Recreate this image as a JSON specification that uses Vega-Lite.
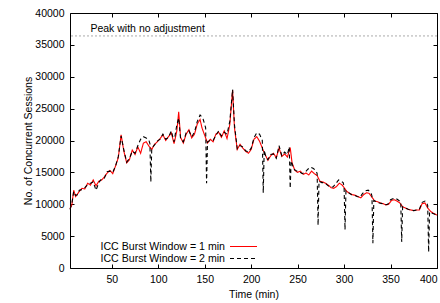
{
  "$schema": "https://vega.github.io/schema/vega-lite/v6.json",
  "width": 367,
  "height": 255,
  "autosize": {"type": "none"},
  "padding": {"left": 70, "top": 13, "right": 3, "bottom": 35},
  "background": "white",
  "config": {
    "font": "Liberation Sans",
    "view": {"stroke": "#000", "strokeWidth": 1},
    "axis": {
      "grid": false,
      "domain": false,
      "tickColor": "#000",
      "tickSize": -4,
      "labelColor": "#000",
      "labelFont": "Liberation Sans",
      "labelFontSize": 10.5,
      "titleFont": "Liberation Sans",
      "titleFontSize": 10.5,
      "titleFontWeight": "normal",
      "titleColor": "#000"
    },
    "legend": {
      "orient": "none",
      "legendX": 168,
      "legendY": 228,
      "symbolType": "M-3,0H3",
      "symbolSize": 81,
      "symbolStrokeWidth": 1.1,
      "labelAlign": "right",
      "labelOffset": -24,
      "labelFont": "Liberation Sans",
      "labelFontSize": 10.6,
      "labelColor": "#000",
      "rowPadding": -1,
      "title": null
    }
  },
  "datasets": {
    "peak": [{"v": 36400, "label": "Peak with no adjustment"}],
    "w1": [
      {"t": 5, "v": 9300}, {"t": 7, "v": 9900}, {"t": 9, "v": 12200}, {"t": 11, "v": 11200}, {"t": 13, "v": 11600},
      {"t": 15, "v": 12000}, {"t": 18, "v": 12500}, {"t": 21, "v": 12400}, {"t": 24, "v": 13300}, {"t": 27, "v": 13000},
      {"t": 30, "v": 13800}, {"t": 33, "v": 12900}, {"t": 36, "v": 13600}, {"t": 39, "v": 13800}, {"t": 42, "v": 14300},
      {"t": 45, "v": 14900}, {"t": 48, "v": 15300}, {"t": 51, "v": 14800}, {"t": 54, "v": 16000}, {"t": 57, "v": 17300},
      {"t": 60, "v": 20900}, {"t": 63, "v": 18300}, {"t": 66, "v": 16500}, {"t": 69, "v": 17000}, {"t": 72, "v": 18500},
      {"t": 75, "v": 17800}, {"t": 78, "v": 19000}, {"t": 81, "v": 18000}, {"t": 84, "v": 19600}, {"t": 87, "v": 19800},
      {"t": 90, "v": 19100}, {"t": 93, "v": 18600}, {"t": 96, "v": 19400}, {"t": 99, "v": 19800}, {"t": 102, "v": 20300},
      {"t": 105, "v": 20900}, {"t": 108, "v": 20000}, {"t": 111, "v": 20600}, {"t": 114, "v": 21200}, {"t": 117, "v": 19500},
      {"t": 120, "v": 21500}, {"t": 122, "v": 24500}, {"t": 124, "v": 20500}, {"t": 127, "v": 19600}, {"t": 130, "v": 21000},
      {"t": 133, "v": 21700}, {"t": 136, "v": 20400}, {"t": 139, "v": 21000}, {"t": 142, "v": 22600}, {"t": 145, "v": 23300},
      {"t": 147, "v": 22000}, {"t": 150, "v": 20800}, {"t": 153, "v": 19600}, {"t": 156, "v": 20200}, {"t": 159, "v": 19800},
      {"t": 162, "v": 21000}, {"t": 165, "v": 21300}, {"t": 168, "v": 20500}, {"t": 171, "v": 21500}, {"t": 174, "v": 20300},
      {"t": 177, "v": 22500}, {"t": 180, "v": 27900}, {"t": 182, "v": 22000}, {"t": 185, "v": 18600}, {"t": 188, "v": 19400},
      {"t": 191, "v": 18800}, {"t": 194, "v": 18300}, {"t": 197, "v": 18000}, {"t": 200, "v": 18600}, {"t": 203, "v": 20200},
      {"t": 206, "v": 20600}, {"t": 209, "v": 19900}, {"t": 212, "v": 18800}, {"t": 215, "v": 17800}, {"t": 218, "v": 16900},
      {"t": 221, "v": 17600}, {"t": 224, "v": 18000}, {"t": 227, "v": 17300}, {"t": 230, "v": 18800}, {"t": 233, "v": 17500},
      {"t": 236, "v": 17900}, {"t": 239, "v": 17400}, {"t": 242, "v": 18900}, {"t": 244, "v": 16500}, {"t": 247, "v": 15300},
      {"t": 250, "v": 15000}, {"t": 253, "v": 15200}, {"t": 256, "v": 14700}, {"t": 259, "v": 14900}, {"t": 262, "v": 14600},
      {"t": 265, "v": 15200}, {"t": 268, "v": 14800}, {"t": 271, "v": 14500}, {"t": 274, "v": 13600}, {"t": 277, "v": 13500},
      {"t": 280, "v": 13300}, {"t": 283, "v": 13000}, {"t": 286, "v": 12600}, {"t": 289, "v": 12500}, {"t": 292, "v": 12800},
      {"t": 295, "v": 13300}, {"t": 298, "v": 13000}, {"t": 300, "v": 12600}, {"t": 303, "v": 12000}, {"t": 306, "v": 11700},
      {"t": 309, "v": 11500}, {"t": 312, "v": 11400}, {"t": 315, "v": 11200}, {"t": 318, "v": 11000}, {"t": 321, "v": 11500},
      {"t": 324, "v": 11800}, {"t": 327, "v": 11700}, {"t": 330, "v": 11100}, {"t": 333, "v": 10500}, {"t": 336, "v": 10400},
      {"t": 339, "v": 10200}, {"t": 342, "v": 10100}, {"t": 345, "v": 9900}, {"t": 348, "v": 10000}, {"t": 351, "v": 10600},
      {"t": 354, "v": 10700}, {"t": 357, "v": 10500}, {"t": 360, "v": 10200}, {"t": 363, "v": 9600}, {"t": 366, "v": 9400},
      {"t": 369, "v": 9200}, {"t": 372, "v": 9100}, {"t": 375, "v": 9000}, {"t": 378, "v": 9100}, {"t": 381, "v": 9100},
      {"t": 384, "v": 10100}, {"t": 387, "v": 10200}, {"t": 390, "v": 9400}, {"t": 393, "v": 8900}, {"t": 396, "v": 8600},
      {"t": 400, "v": 8300}
    ],
    "w2": [
      {"t": 5, "v": 9200}, {"t": 7, "v": 10100}, {"t": 9, "v": 12000}, {"t": 11, "v": 11400}, {"t": 13, "v": 11500},
      {"t": 15, "v": 12200}, {"t": 18, "v": 12300}, {"t": 21, "v": 12600}, {"t": 24, "v": 13100}, {"t": 27, "v": 13300},
      {"t": 30, "v": 13500}, {"t": 33, "v": 12200}, {"t": 36, "v": 13400}, {"t": 39, "v": 14000}, {"t": 42, "v": 14100},
      {"t": 45, "v": 15100}, {"t": 48, "v": 15200}, {"t": 51, "v": 15000}, {"t": 54, "v": 16000}, {"t": 57, "v": 17500},
      {"t": 60, "v": 20700}, {"t": 63, "v": 18500}, {"t": 66, "v": 16600}, {"t": 69, "v": 17200}, {"t": 72, "v": 18300},
      {"t": 75, "v": 18000}, {"t": 78, "v": 19200}, {"t": 81, "v": 20200}, {"t": 84, "v": 20600}, {"t": 87, "v": 20400},
      {"t": 90, "v": 20000}, {"t": 91, "v": 19500}, {"t": 92, "v": 13500}, {"t": 93, "v": 18800}, {"t": 96, "v": 19300},
      {"t": 99, "v": 19900}, {"t": 102, "v": 20200}, {"t": 105, "v": 21000}, {"t": 108, "v": 20200}, {"t": 111, "v": 20500},
      {"t": 114, "v": 21500}, {"t": 117, "v": 19800}, {"t": 120, "v": 22500}, {"t": 122, "v": 23500}, {"t": 124, "v": 20300},
      {"t": 127, "v": 19800}, {"t": 130, "v": 21200}, {"t": 133, "v": 21500}, {"t": 136, "v": 20600}, {"t": 139, "v": 21300},
      {"t": 142, "v": 23000}, {"t": 145, "v": 24000}, {"t": 148, "v": 23500}, {"t": 151, "v": 22000}, {"t": 152, "v": 13300},
      {"t": 153, "v": 19800}, {"t": 156, "v": 20000}, {"t": 159, "v": 20000}, {"t": 162, "v": 20800}, {"t": 165, "v": 21500},
      {"t": 168, "v": 20700}, {"t": 171, "v": 21300}, {"t": 174, "v": 21000}, {"t": 177, "v": 23000}, {"t": 180, "v": 28000},
      {"t": 182, "v": 22500}, {"t": 185, "v": 18700}, {"t": 188, "v": 19200}, {"t": 191, "v": 19000}, {"t": 194, "v": 18400},
      {"t": 197, "v": 18200}, {"t": 200, "v": 18800}, {"t": 203, "v": 20400}, {"t": 206, "v": 21200}, {"t": 209, "v": 21000},
      {"t": 212, "v": 20000}, {"t": 213, "v": 11800}, {"t": 214, "v": 18500}, {"t": 216, "v": 17300}, {"t": 218, "v": 17000},
      {"t": 221, "v": 17800}, {"t": 224, "v": 17900}, {"t": 227, "v": 17200}, {"t": 230, "v": 19200}, {"t": 233, "v": 17600},
      {"t": 236, "v": 18200}, {"t": 239, "v": 17800}, {"t": 241, "v": 19000}, {"t": 242, "v": 12500}, {"t": 243, "v": 16800},
      {"t": 246, "v": 15500}, {"t": 249, "v": 15200}, {"t": 252, "v": 15100}, {"t": 255, "v": 14800}, {"t": 258, "v": 15000},
      {"t": 261, "v": 15500}, {"t": 264, "v": 15800}, {"t": 267, "v": 15600}, {"t": 270, "v": 15200}, {"t": 271, "v": 14800},
      {"t": 272, "v": 6700}, {"t": 273, "v": 13600}, {"t": 276, "v": 13400}, {"t": 279, "v": 13400}, {"t": 282, "v": 13000},
      {"t": 285, "v": 12700}, {"t": 288, "v": 12700}, {"t": 291, "v": 13200}, {"t": 294, "v": 13800}, {"t": 297, "v": 13600},
      {"t": 299, "v": 13400}, {"t": 300, "v": 12800}, {"t": 301, "v": 6000}, {"t": 302, "v": 12100}, {"t": 305, "v": 11800},
      {"t": 308, "v": 11500}, {"t": 311, "v": 11400}, {"t": 314, "v": 11200}, {"t": 317, "v": 11100}, {"t": 320, "v": 11700},
      {"t": 323, "v": 12100}, {"t": 326, "v": 12200}, {"t": 329, "v": 11800}, {"t": 330, "v": 11300}, {"t": 331, "v": 3900},
      {"t": 332, "v": 10600}, {"t": 335, "v": 10400}, {"t": 338, "v": 10200}, {"t": 341, "v": 10100}, {"t": 344, "v": 9900},
      {"t": 347, "v": 10000}, {"t": 350, "v": 10700}, {"t": 353, "v": 10900}, {"t": 356, "v": 10900}, {"t": 359, "v": 10600},
      {"t": 361, "v": 10300}, {"t": 362, "v": 4100}, {"t": 363, "v": 9600}, {"t": 366, "v": 9400}, {"t": 369, "v": 9200},
      {"t": 372, "v": 9100}, {"t": 375, "v": 9000}, {"t": 378, "v": 9100}, {"t": 381, "v": 9200}, {"t": 384, "v": 10300},
      {"t": 387, "v": 10500}, {"t": 389, "v": 10200}, {"t": 390, "v": 9800}, {"t": 391, "v": 2500}, {"t": 392, "v": 8800},
      {"t": 395, "v": 8600}, {"t": 400, "v": 8300}
    ]
  },
  "layer": [
    {
      "data": {"name": "peak"},
      "mark": {"type": "rule", "color": "#aaa", "strokeDash": [2, 2], "strokeWidth": 1},
      "encoding": {
        "y": {"field": "v", "type": "quantitative", "scale": {"domain": [0, 40000], "nice": false},
          "axis": {"orient": "left", "title": "No. of Concurrent Sessions", "format": "d", "values": [0, 5000, 10000, 15000, 20000, 25000, 30000, 35000, 40000], "labelPadding": 10, "titlePadding": 1}}
      }
    },
    {
      "data": {"name": "peak"},
      "mark": {"type": "text", "align": "left", "baseline": "bottom", "dy": -2, "fontSize": 10.5, "font": "Liberation Sans", "color": "#000"},
      "encoding": {
        "x": {"datum": 27, "type": "quantitative", "axis": null},
        "y": {"field": "v", "type": "quantitative", "axis": null},
        "text": {"field": "label"}
      }
    },
    {
      "data": {"name": "w1"},
      "mark": {"type": "line", "strokeWidth": 1.1},
      "encoding": {
        "x": {"field": "t", "type": "quantitative", "scale": {"domain": [5, 400], "nice": false, "zero": false},
          "axis": {"orient": "bottom", "title": "Time (min)", "values": [50, 100, 150, 200, 250, 300, 350, 400], "labelPadding": 10, "titlePadding": 5}},
        "y": {"field": "v", "type": "quantitative", "axis": null},
        "color": {"datum": "ICC Burst Window = 1 min", "type": "nominal",
          "scale": {"domain": ["ICC Burst Window = 1 min", "ICC Burst Window = 2 min"], "range": ["#ff0000", "#000000"]},
          "legend": {"encode": {"symbols": {"update": {"stroke": {"scale": "color", "field": "value"}, "fill": {"value": "transparent"}}}}}},
        "strokeDash": {"datum": "ICC Burst Window = 1 min", "type": "nominal",
          "scale": {"domain": ["ICC Burst Window = 1 min", "ICC Burst Window = 2 min"], "range": [[1, 0], [4, 3]]}}
      }
    },
    {
      "data": {"name": "w2"},
      "mark": {"type": "line", "strokeWidth": 1.1},
      "encoding": {
        "x": {"field": "t", "type": "quantitative", "axis": {"orient": "top", "labels": false, "title": null, "values": [50, 100, 150, 200, 250, 300, 350, 400]}},
        "y": {"field": "v", "type": "quantitative", "axis": {"orient": "right", "labels": false, "title": null, "values": [0, 5000, 10000, 15000, 20000, 25000, 30000, 35000, 40000]}},
        "color": {"datum": "ICC Burst Window = 2 min", "type": "nominal"},
        "strokeDash": {"datum": "ICC Burst Window = 2 min", "type": "nominal"}
      }
    }
  ]
}
